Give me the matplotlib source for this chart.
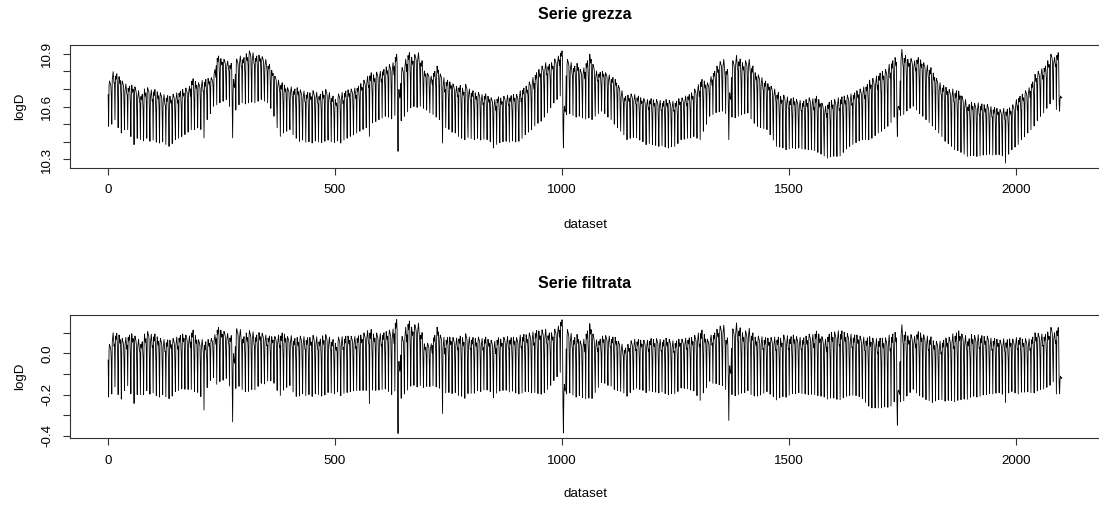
import numpy as np
import matplotlib
matplotlib.use("Agg")
import matplotlib.pyplot as plt

plt.rcParams['font.family'] = ['Liberation Sans', 'DejaVu Sans']

# weekly values, in thousandths above 10 (10.745 -> 745)
# one entry per week, 300 weeks = 2100 days
raw_top = [
    745, 798, 786, 770, 745, 728, 716, 722, 712, 690,
    669, 700, 707, 695, 697, 684, 678, 668, 662, 659,
    670, 678, 688, 697, 705, 716, 758, 742, 735, 748,
    754, 760, 764, 811, 887, 872, 868, 859, 845, 754,
    870, 887, 878, 900, 916, 905, 887, 892, 883, 868,
    840, 805, 773, 750, 735, 722, 707, 712, 700, 707,
    695, 688, 680, 678, 690, 682, 670, 688, 697, 680,
    660, 640, 672, 680, 688, 695, 700, 705, 716, 730,
    750, 772, 792, 780, 795, 800, 811, 825, 838, 849,
    897, 697, 821, 870, 906, 880, 895, 906, 860, 802,
    790, 773, 800, 830, 785, 764, 750, 740, 728, 716,
    720, 705, 726, 700, 690, 678, 680, 668, 672, 659,
    650, 640, 655, 648, 659, 665, 662, 668, 669, 690,
    705, 716, 740, 765, 792, 810, 830, 849, 840, 849,
    870, 887, 916, 602, 868, 850, 830, 845, 811, 820,
    860, 897, 840, 802, 795, 800, 792, 780, 765, 754,
    720, 690, 659, 665, 672, 669, 660, 650, 645, 640,
    645, 638, 640, 635, 631, 640, 635, 630, 631, 645,
    650, 660, 668, 678, 700, 725, 754, 745, 735, 770,
    800, 830, 855, 868, 811, 678, 860, 891, 870, 849,
    860, 868, 830, 792, 780, 764, 745, 730, 716, 700,
    680, 659, 665, 655, 645, 650, 640, 635, 631, 640,
    650, 645, 659, 640, 620, 602, 625, 635, 640, 650,
    655, 659, 665, 672, 678, 690, 700, 712, 726, 750,
    760, 773, 790, 800, 811, 840, 860, 878, 602, 925,
    890, 868, 872, 860, 878, 865, 849, 835, 821, 790,
    760, 735, 720, 710, 697, 700, 690, 688, 660, 640,
    612, 625, 618, 621, 615, 610, 612, 600, 595, 590,
    583, 590, 585, 593, 610, 640, 659, 670, 690, 707,
    740, 783, 800, 815, 830, 860, 897, 880, 906, 660,
]

raw_low = [
    488, 500, 526, 480, 450, 470, 469, 430, 384, 420,
    412, 405, 420, 403, 410, 398, 393, 400, 385, 374,
    390, 412, 420, 430, 441, 455, 469, 470, 479, 470,
    422, 526, 560, 602, 610, 621, 630, 640, 600, 422,
    580, 610, 621, 615, 621, 625, 621, 630, 640, 630,
    621, 590, 545, 480, 431, 450, 460, 469, 440, 420,
    403, 410, 398, 400, 393, 405, 400, 395, 403, 410,
    400, 395, 405, 393, 410, 420, 431, 440, 450, 460,
    470, 480, 431, 507, 515, 525, 535, 545, 540, 530,
    550, 346, 520, 545, 570, 593, 600, 595, 602, 590,
    580, 564, 555, 540, 526, 393, 480, 470, 455, 450,
    430, 420, 412, 425, 418, 412, 420, 410, 415, 412,
    400, 365, 385, 395, 400, 403, 398, 405, 400, 403,
    420, 440, 455, 469, 490, 505, 517, 540, 565, 593,
    620, 640, 660, 365, 555, 560, 550, 540, 545, 536,
    530, 535, 526, 545, 560, 574, 560, 540, 526, 500,
    480, 460, 440, 412, 420, 425, 422, 410, 400, 384,
    390, 385, 380, 374, 378, 370, 365, 372, 374, 390,
    412, 415, 420, 422, 430, 420, 412, 460, 500, 545,
    555, 565, 570, 574, 560, 412, 540, 536, 545, 555,
    560, 564, 530, 505, 488, 480, 475, 469, 440, 410,
    374, 370, 365, 355, 360, 365, 362, 365, 360, 358,
    355, 355, 350, 340, 330, 320, 308, 315, 318, 317,
    320, 340, 360, 374, 385, 395, 405, 412, 412, 412,
    420, 435, 450, 460, 475, 488, 510, 540, 431, 550,
    555, 575, 590, 602, 580, 560, 545, 525, 510, 490,
    469, 450, 430, 403, 390, 375, 355, 350, 340, 330,
    317, 320, 322, 317, 320, 325, 327, 330, 325, 327,
    327, 320, 279, 330, 355, 370, 385, 412, 430, 450,
    469, 490, 520, 545, 564, 590, 615, 640, 583, 574,
]

# level removed by the filter, per week (same units)
trend = [
    700, 697, 688, 680, 672, 650, 626, 626, 627, 620,
    612, 605, 601, 601, 602, 603, 605, 600, 596, 594,
    597, 598, 600, 602, 615, 630, 644, 655, 668, 680,
    697, 692, 691, 720, 760, 758, 760, 761, 758, 755,
    750, 770, 796, 800, 805, 800, 797, 790, 785, 778,
    755, 723, 690, 660, 635, 628, 625, 625, 627, 629,
    610, 606, 603, 600, 602, 601, 600, 602, 605, 600,
    592, 590, 592, 598, 604, 610, 616, 622, 630, 640,
    650, 660, 675, 685, 695, 703, 710, 718, 724, 730,
    732, 735, 738, 742, 748, 752, 755, 758, 758, 755,
    740, 725, 712, 702, 695, 685, 672, 660, 650, 640,
    635, 628, 630, 620, 612, 605, 600, 595, 592, 590,
    585, 580, 578, 578, 580, 582, 585, 588, 592, 600,
    612, 625, 640, 660, 680, 700, 715, 730, 740, 748,
    752, 753, 752, 752, 752, 752, 752, 752, 750, 750,
    750, 752, 745, 735, 725, 715, 705, 695, 685, 675,
    660, 645, 632, 620, 610, 600, 592, 585, 580, 575,
    572, 570, 568, 566, 565, 565, 566, 568, 570, 575,
    580, 585, 592, 600, 612, 625, 640, 652, 665, 680,
    700, 712, 722, 730, 735, 738, 740, 742, 745, 748,
    750, 745, 730, 712, 695, 682, 668, 655, 638, 620,
    600, 585, 575, 568, 563, 560, 558, 556, 555, 555,
    555, 553, 550, 545, 538, 532, 530, 532, 535, 540,
    545, 556, 568, 578, 588, 600, 615, 632, 650, 668,
    685, 700, 715, 725, 735, 750, 765, 775, 780, 785,
    785, 782, 780, 776, 772, 765, 758, 750, 740, 728,
    700, 675, 655, 635, 618, 604, 590, 578, 565, 552,
    540, 533, 530, 529, 528, 527, 527, 525, 522, 520,
    518, 518, 518, 522, 540, 562, 582, 600, 618, 636,
    660, 682, 702, 720, 737, 755, 770, 778, 780, 770,
]

# typical week shapes (Sat..Fri), position between the week's low (0) and top (1)
week_shapes = [
    [0.70, 0.00, 0.90, 1.00, 0.96, 0.94, 0.88],
    [0.52, 0.00, 0.84, 0.93, 1.00, 0.90, 0.78],
    [0.80, 0.00, 0.95, 0.88, 0.93, 1.00, 0.84],
    [0.60, 0.00, 0.80, 1.00, 0.91, 0.86, 0.92],
]

top = 10 + np.array(raw_top) / 1000.0
low = 10 + np.array(raw_low) / 1000.0
lev = 10 + np.array(trend) / 1000.0

raw = []
filt = []
for w in range(len(top)):
    for p in week_shapes[w % len(week_shapes)]:
        v = low[w] + p * (top[w] - low[w])
        raw.append(v)
        filt.append(v - lev[w])
raw = np.array(raw)
filt = np.array(filt)
x = np.arange(1, len(raw) + 1)

W, H = 1099, 507
fig = plt.figure(figsize=(W / 100, H / 100), dpi=100)
fs = 9.6


def panel(top_px, series, yticks, ylabels, title, title_y, lab_y):
    ax = fig.add_axes([70 / W, 1 - (top_px + 123) / H, 1030 / W, 123 / H])
    ax.plot(x, series, color='black', lw=0.6)
    r = x.max() - x.min()
    ax.set_xlim(x.min() - 0.04 * r, x.max() + 0.04 * r)
    lo, hi = series.min(), series.max()
    ax.set_ylim(lo - 0.04 * (hi - lo), hi + 0.04 * (hi - lo))
    ax.set_xticks([0, 500, 1000, 1500, 2000])
    ax.set_xticklabels(['0', '500', '1000', '1500', '2000'])
    ax.set_yticks(yticks)
    ax.set_yticklabels(ylabels)
    ax.tick_params(length=5, width=0.8, labelsize=fs, pad=7, color='#333333')
    for lab in ax.get_yticklabels():
        lab.set_rotation(90)
        lab.set_va('center')
    for s in ax.spines.values():
        s.set_color('#333333')
        s.set_linewidth(0.8)
    fig.text(585 / W, 1 - title_y / H, title, ha='center', va='center',
             fontweight='bold', fontsize=11.5)
    fig.text(585 / W, 1 - lab_y / H, 'dataset', ha='center', va='center', fontsize=fs)
    fig.text(20 / W, 1 - (top_px + 61.5) / H, 'logD', ha='center', va='center',
             rotation=90, fontsize=fs)
    return ax


panel(44.7, raw, [10.3, 10.4, 10.5, 10.6, 10.7, 10.8, 10.9],
      ['10.3', '', '', '10.6', '', '', '10.9'], 'Serie grezza', 14, 225)
panel(315, filt, [-0.4, -0.3, -0.2, -0.1, 0.0, 0.1],
      ['-0.4', '', '-0.2', '', '0.0', ''], 'Serie filtrata', 284, 494)

fig.savefig('out.png', dpi=100)
